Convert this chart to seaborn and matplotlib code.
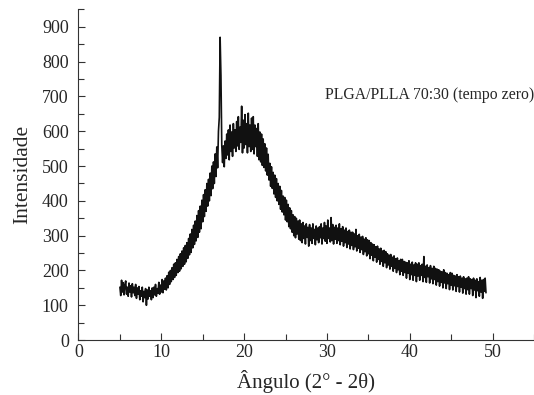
import numpy as np
import pandas as pd
import matplotlib
matplotlib.use("Agg")
import matplotlib.pyplot as plt
import seaborn as sns
from matplotlib.ticker import MultipleLocator

# Difratograma PLGA/PLLA 70:30 (tempo zero), passo 0,1°
angulo_inicio = 5.0
passo = 0.1
intensidade = [
    152, 128, 172, 138, 165, 130, 158, 170, 132, 152, 126, 164, 138, 156, 124, 162, 136, 152, 128, 160,  # 5.0
    120, 150, 132, 154, 116, 142, 126, 152, 110, 140, 122, 148, 100, 144, 118, 152, 126, 142, 116, 150,  # 7.0
    122, 152, 130, 160, 126, 148, 134, 166, 132, 158, 138, 174, 136, 170, 146, 178, 144, 185, 150, 195,  # 9.0
    160, 200, 168, 208, 174, 218, 180, 222, 186, 232, 194, 240, 198, 248, 205, 256, 212, 265, 218, 272,  # 11.0
    225, 280, 235, 292, 245, 305, 252, 318, 265, 330, 275, 342, 285, 358, 295, 372, 310, 385, 320, 402,  # 13.0
    340, 418, 355, 432, 370, 450, 385, 462, 400, 480, 415, 500, 435, 512, 450, 535, 470, 555, 495, 600,  # 15.0
    640, 870, 760, 560, 510, 558, 498, 572, 522, 592, 532, 604, 518, 618, 542, 598, 528, 622, 552, 604,  # 17.0
    542, 628, 558, 642, 548, 612, 568, 672, 538, 632, 552, 648, 562, 622, 538, 652, 556, 618, 542, 638,  # 19.0
    548, 642, 535, 618, 556, 608, 528, 622, 518, 598, 512, 592, 502, 578, 496, 564, 486, 552, 474, 534,  # 21.0
    460, 508, 442, 498, 436, 482, 420, 474, 410, 464, 400, 450, 390, 442, 376, 430, 368, 414, 360, 410,  # 23.0
    345, 402, 340, 390, 326, 380, 320, 372, 310, 360, 300, 355, 294, 350, 305, 342, 290, 345, 286, 334,  # 25.0
    280, 338, 292, 328, 276, 334, 295, 324, 270, 332, 286, 322, 278, 334, 292, 318, 274, 328, 288, 322,  # 27.0
    280, 326, 294, 334, 276, 322, 292, 338, 284, 328, 278, 345, 292, 322, 282, 352, 286, 332, 276, 324,  # 29.0
    290, 330, 278, 322, 286, 334, 274, 320, 284, 326, 270, 316, 280, 322, 266, 312, 276, 316, 262, 310,  # 31.0
    272, 310, 260, 305, 268, 318, 256, 300, 264, 304, 252, 296, 260, 298, 246, 290, 254, 294, 242, 288,  # 33.0
    248, 286, 234, 280, 244, 276, 228, 274, 238, 268, 224, 270, 232, 262, 218, 264, 226, 256, 212, 258,  # 35.0
    222, 254, 208, 248, 216, 244, 204, 246, 212, 238, 198, 242, 206, 234, 194, 236, 202, 228, 188, 232,  # 37.0
    198, 232, 186, 226, 194, 224, 178, 222, 192, 228, 174, 218, 188, 224, 172, 216, 186, 222, 168, 218,  # 39.0
    184, 222, 172, 214, 186, 218, 168, 240, 180, 212, 166, 216, 182, 208, 164, 214, 176, 206, 162, 212,  # 41.0
    174, 206, 158, 204, 168, 202, 155, 198, 166, 196, 150, 202, 164, 194, 148, 192, 162, 188, 145, 194,  # 43.0
    158, 192, 144, 186, 156, 184, 140, 188, 154, 182, 138, 184, 152, 178, 135, 182, 148, 176, 132, 178,  # 45.0
    145, 182, 132, 176, 148, 174, 128, 178, 144, 172, 122, 176, 142, 168, 126, 180, 138, 172, 120, 174,  # 47.0
    140, 178, 136,                                                                                      # 49.0
]
angulo = np.round(angulo_inicio + passo * np.arange(len(intensidade)), 1)

df = pd.DataFrame({"angulo": angulo, "intensidade": intensidade})

sns.set_style("ticks")
plt.rcParams["font.family"] = ["Liberation Serif", "DejaVu Serif"]

fig = plt.figure(figsize=(5.34, 3.95), dpi=100)
ax = fig.add_axes([0.147, 0.139, 0.853, 0.837])

sns.lineplot(data=df, x="angulo", y="intensidade", ax=ax, color="#111111",
             linewidth=1.2, sort=False)

ax.set_xlim(0, 55)
ax.set_ylim(0, 950)
ax.xaxis.set_major_locator(MultipleLocator(10))
ax.xaxis.set_minor_locator(MultipleLocator(5))
ax.yaxis.set_minor_locator(MultipleLocator(50))
ax.set_yticks(range(0, 901, 100))
ax.tick_params(which="both", direction="in", labelsize=13, width=0.8, color="#333333")
ax.tick_params(which="major", length=5)
ax.tick_params(which="minor", length=4)
ax.tick_params(axis="y", pad=7)
ax.tick_params(axis="x", pad=3)
sns.despine(ax=ax)
for s in ("left", "bottom"):
    ax.spines[s].set_linewidth(0.8)
    ax.spines[s].set_color("#333333")

ax.set_xlabel("Ângulo (2° - 2θ)", fontsize=15, labelpad=6)
ax.set_ylabel("Intensidade", fontsize=15.5, labelpad=7)
ax.text(1.0, 0.741, "PLGA/PLLA 70:30 (tempo zero)", transform=ax.transAxes,
        ha="right", va="center", fontsize=11.3)

fig.savefig("out.png", dpi=100)
